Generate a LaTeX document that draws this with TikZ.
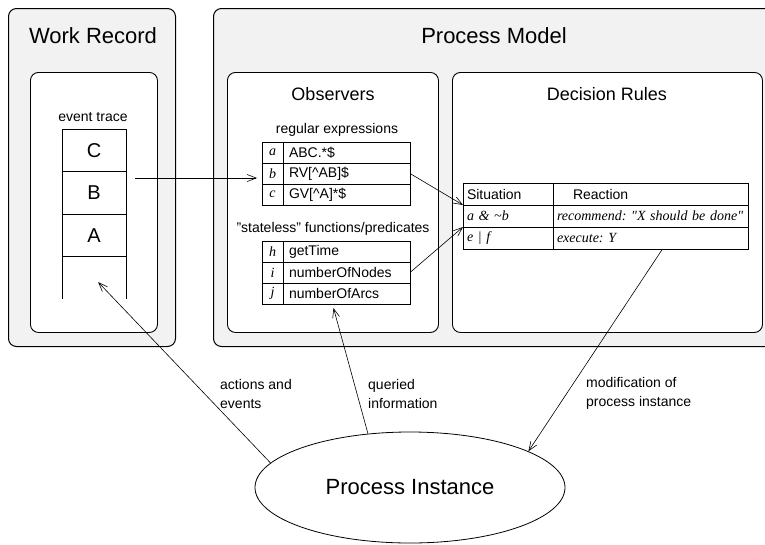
\documentclass[tikz,border=0pt]{standalone}
\usepackage{fontspec}
\setmainfont{Liberation Sans}
\newfontfamily\serifit{Liberation Serif}
\usetikzlibrary{positioning,shapes.geometric,arrows.meta,calc}

\begin{document}
\begin{tikzpicture}[
    x=1pt, y=-1pt,
    outerpanel/.style={
        rectangle,
        draw,
        fill=black!5,
        line width=1pt,
        rounded corners=8pt,
        anchor=north west,
        inner sep=0pt
    },
    innerpanel/.style={
        rectangle,
        draw,
        fill=white,
        line width=0.9pt,
        rounded corners=8pt,
        anchor=north west,
        inner sep=0pt
    },
    bigtitle/.style={font=\fontsize{22}{26}\selectfont},
    midtitle/.style={font=\fontsize{18}{22}\selectfont},
    smalltext/.style={font=\fontsize{14}{17}\selectfont},
    tracecell/.style={
        rectangle,
        draw,
        line width=0.9pt,
        minimum width=64,
        minimum height=42.5,
        inner sep=0pt,
        outer sep=0pt,
        font=\fontsize{20}{24}\selectfont
    },
    keycell/.style={
        rectangle,
        draw,
        line width=0.9pt,
        minimum width=21,
        minimum height=21,
        inner sep=0pt,
        outer sep=0pt,
        font=\serifit\itshape\fontsize{14}{16}\selectfont
    },
    valcell/.style={
        rectangle,
        draw,
        line width=0.9pt,
        minimum height=21,
        text width=115,
        inner xsep=6pt,
        inner ysep=0pt,
        outer sep=0pt,
        align=left,
        font=\fontsize{14}{16}\selectfont
    },
    sitcell/.style={
        rectangle,
        draw,
        line width=0.9pt,
        minimum height=22,
        text width=82,
        inner xsep=4pt,
        inner ysep=0pt,
        outer sep=0pt,
        align=left,
        font=\serifit\itshape\fontsize{14}{16}\selectfont\frenchspacing
    },
    reactcell/.style={
        sitcell,
        text width=187
    },
    rulehead/.style={font=\fontsize{14}{16}\selectfont},
    instance/.style={
        ellipse,
        draw,
        line width=0.8pt,
        minimum width=310,
        minimum height=111,
        inner sep=0pt,
        font=\fontsize{22}{26}\selectfont
    },
    edgelabel/.style={
        align=left,
        anchor=west,
        inner sep=0pt,
        font=\fontsize{14}{19}\selectfont
    },
    flow/.style={-{Straight Barb[length=9pt,width=7pt]}, line width=0.6pt}
]
\useasboundingbox (0,0) rectangle (765,544);

% Panels
\node[outerpanel, minimum width=167, minimum height=338] (wr) at (8,8) {};
\node[outerpanel, minimum width=580, minimum height=338] (pm) at (213,8) {};
\node[innerpanel, minimum width=127, minimum height=260] (wrin) at (30,72) {};
\node[innerpanel, minimum width=211, minimum height=260] (obs) at (227,72) {};
\node[innerpanel, minimum width=310, minimum height=260] (dec) at (452,72) {};

\node[bigtitle] (wrtitle) at (93,36) {Work Record};
\node[bigtitle] (pmtitle) at (494,36) {Process Model};
\node[midtitle] (obstitle) at (333,94) {Observers};
\node[midtitle] (dectitle) at (607,94) {Decision Rules};

% Event trace
\node[smalltext] (trtitle) at (93,117) {event trace};
\node[tracecell] (trC) at (94,150.25) {C};
\node[tracecell, below=0pt of trC] (trB) {B};
\node[tracecell, below=0pt of trB] (trA) {A};
\node[tracecell, draw=none, below=0pt of trA] (trE) {};
\draw[line width=0.9pt] (trE.north west) -- (trE.south west)
    (trE.north east) -- (trE.south east);

% Regular expressions
\node[smalltext] (retitle) at (337,130) {regular expressions};
\node[keycell] (ra) at (272.5,152.5) {a};
\node[valcell, right=0pt of ra] (rav) {ABC.*\$};
\node[keycell, below=0pt of ra] (rb) {b};
\node[valcell, right=0pt of rb] (rbv) {RV[\textasciicircum AB]\$};
\node[keycell, below=0pt of rb] (rc) {c};
\node[valcell, right=0pt of rc] (rcv) {GV[\textasciicircum A]*\$};

% Stateless functions
\node[smalltext] (fntitle) at (333,229) {"stateless" functions/predicates};
\node[keycell] (rh) at (272.5,251.5) {h};
\node[valcell, right=0pt of rh] (rhv) {getTime};
\node[keycell, below=0pt of rh] (ri) {i};
\node[valcell, right=0pt of ri] (riv) {numberOfNodes};
\node[keycell, below=0pt of ri] (rj) {j};
\node[valcell, right=0pt of rj] (rjv) {numberOfArcs};

% Decision table
\node[sitcell, rulehead] (sh) at (508,194) {Situation};
\node[reactcell, rulehead, right=0pt of sh] (xh) {\hspace*{16pt}Reaction};
\node[sitcell, below=0pt of sh] (sa) {a \& \textasciitilde b};
\node[reactcell, right=0pt of sa] (xa) {recommend: "X should be done"};
\node[sitcell, below=0pt of sa] (se) {e | f};
\node[reactcell, right=0pt of se] (xe) {execute: Y};

% Process instance
\node[instance] (pi) at (410,487.5) {Process Instance};

% Connectors
\coordinate (rbin) at ($(rb.west)!0.43!(rb.south west)$);
\draw[flow, shorten <=9pt, shorten >=5pt] (trB.east |- rbin) -- (rbin);
\draw[flow] (rbv.east) -- (sa.north west);
\draw[flow] (riv.east) -- (se.north west);
\draw[flow] ([xshift=12pt]xe.south) -- (pi.17);
\draw[flow] (pi.128) -- ([xshift=-13pt,yshift=-4pt]rjv.south);
\draw[flow, shorten >=6pt] (pi.170) -- (trE.center);

% Labels
\node[edgelabel] (lblact) at (220,393.5) {actions and\\events};
\node[edgelabel] (lblqry) at (368,393.5) {queried\\information};
\node[edgelabel] (lblmod) at (586,393.5) {modification of\\process instance};

\end{tikzpicture}
\end{document}
